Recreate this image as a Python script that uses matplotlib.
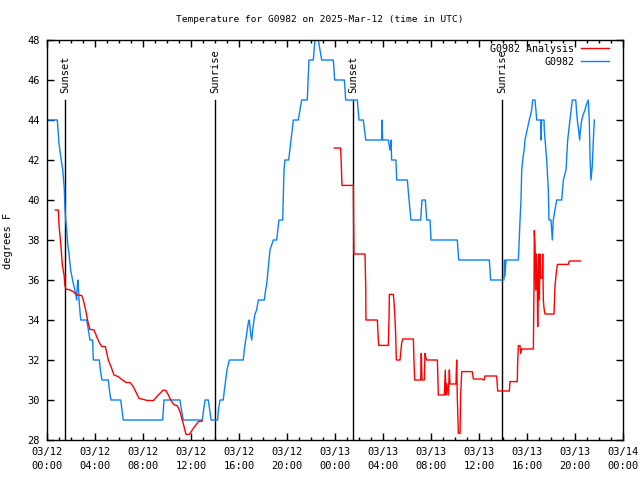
import numpy as np
import matplotlib
matplotlib.use('Agg')
import matplotlib.pyplot as plt
import matplotlib.dates as mdates

plt.rcParams['font.family'] = 'DejaVu Sans Mono'
plt.rcParams['font.size'] = 7.5

start = np.datetime64('2025-03-12T00:00:00')

# observed temps (hours since 03/12 00:00 UTC, deg F)
obs_hours = [0, 0.86, 0.92, 1.0, 1.14, 1.31, 1.44, 1.5, 1.56, 1.64, 1.72, 1.83, 1.97,
             2.19, 2.39, 2.47, 2.53, 2.58, 2.64, 2.69, 2.81, 3.31, 3.45, 3.58, 3.8, 3.86,
             4.36, 4.45, 4.58, 5.11, 5.2, 5.33, 6.14, 6.25, 6.36, 9.64, 9.75, 11.08, 11.2,
             11.36, 12.94, 13.05, 13.17, 13.44, 13.56, 13.67, 14.22, 14.28, 14.42, 14.69,
             14.78, 14.89, 15.0, 15.19, 16.36, 16.44, 16.56, 16.69, 16.78, 16.86, 16.97,
             17.06, 17.14, 17.25, 17.33, 17.47, 17.61, 18.11, 18.22, 18.31, 18.58, 18.86,
             19.14, 19.33, 19.64, 19.75, 19.83, 20.14, 20.53, 20.94, 21.22, 21.69, 21.83,
             22.19, 22.33, 22.61, 22.89, 23.86, 23.97, 24.78, 24.89, 25.86, 26.0, 26.36,
             26.56, 27.89, 27.93, 27.97, 28.44, 28.58, 28.67, 28.72, 29.08, 29.14, 30.03,
             30.17, 30.33, 31.14, 31.25, 31.53, 31.64, 31.92, 32.0, 34.19, 34.31, 36.86,
             36.97, 38.08, 38.12, 38.16, 38.25, 39.28, 39.42, 39.5, 39.56, 39.64, 39.78,
             39.83, 40.19, 40.39, 40.47, 40.67, 40.81, 41.14, 41.17, 41.22, 41.42, 41.44,
             41.64, 41.78, 41.83, 42.0, 42.11, 42.19, 42.47, 42.89, 43.03, 43.25, 43.39,
             43.58, 43.78, 44.06, 44.19, 44.3, 44.39, 44.45, 44.56, 44.7, 44.83, 44.97,
             45.11, 45.19, 45.25, 45.33, 45.44, 45.53, 45.61]
obs_temps = [44, 44, 43.5, 42.83, 42.17, 41.53, 40.58, 39.58, 39, 38.5, 37.83, 37.33, 36.5,
             35.83, 35.33, 35.0, 35.75, 36.0, 35.33, 34.83, 34.0, 34.0, 33.5, 33.0, 33.0, 32.0,
             32.0, 31.5, 31.0, 31.0, 30.5, 30.0, 30.0, 29.5, 29.0, 29.0, 30.0, 30.0, 29.5,
             29.0, 29.0, 29.5, 30.0, 30.0, 29.5, 29.0, 29.0, 29.5, 30.0, 30.0,
             30.5, 31.0, 31.5, 32.0, 32.0, 32.5, 33.0, 33.5, 33.9, 34.0, 33.3,
             33.0, 33.5, 34.0, 34.3, 34.5, 35.0, 35.0, 35.5, 35.8, 37.5, 38.0,
             38.0, 39.0, 39.0, 41.5, 42.0, 42.0, 44.0, 44.0, 45.0, 45.0, 47.0,
             47.0, 48.0, 48.0, 47.0, 47.0, 46.0, 46.0, 45.0, 45.0, 44.0, 44.0,
             43.0, 43.0, 44.0, 43.0, 43.0, 42.5, 43.0, 42.0, 42.0, 41.0, 41.0,
             40.0, 39.0, 39.0, 40.0, 40.0, 39.0, 39.0, 38.0, 38.0, 37.0, 37.0,
             36.0, 36.0, 37.0, 36.2, 37.0, 37.0, 39.0, 40.0, 41.5, 42.0, 42.6,
             43.0, 44.0, 44.5, 45.0, 45.0, 44.0, 44.0, 43.0, 44.0, 44.0, 43.5,
             42.0, 40.5, 39.0, 39.0, 38.0, 39.0, 40.0, 40.0, 41.0, 41.5, 43.0,
             44.0, 45.0, 45.0, 44.0, 43.5, 43.0, 43.5, 44.0, 44.3, 44.5, 44.8,
             45.0, 44.0, 42.2, 41.0, 41.7, 43.0, 44.0]

# analysis, two pieces with a gap between them
ana1_hours = [0.69, 0.94, 1.0, 1.14, 1.28, 1.42, 1.5, 1.58, 1.92, 2.19, 2.33, 2.47, 2.89,
              3.03, 3.22, 3.44, 3.58, 3.92, 4.14, 4.42, 4.58, 4.86, 5.11, 5.39, 5.58, 5.94,
              6.22, 6.58, 6.92, 7.19, 7.67, 8.03, 8.31, 8.86, 9.28, 9.69, 9.92, 10.11,
              10.39, 10.61, 10.86, 11.08, 11.42, 11.58, 11.86, 12.19, 12.61, 12.94]
ana1_temps = [39.5, 39.5, 38.75, 37.83, 36.75, 36.25, 35.7, 35.55, 35.5, 35.42, 35.33, 35.25,
              35.23, 35.0, 34.5, 33.83, 33.53, 33.5, 33.17, 32.8, 32.67, 32.67, 32.0, 31.58,
              31.25, 31.17, 31.03, 30.88, 30.87, 30.67, 30.08, 30.03, 29.98, 29.97, 30.25,
              30.5, 30.47, 30.25, 29.92, 29.75, 29.72, 29.42, 28.67, 28.28, 28.28, 28.58,
              28.92, 28.95]
ana2_hours = [23.94, 24.47, 24.53, 24.58, 25.53, 25.55, 25.58, 26.5, 26.56, 26.58, 27.53,
              27.58, 27.64, 28.44, 28.5, 28.53, 28.86, 28.92, 29.0, 29.06, 29.11, 29.42,
              29.47, 29.56, 29.64, 30.53, 30.58, 30.64, 31.14, 31.19, 31.25, 31.44, 31.5,
              31.56, 31.64, 32.53, 32.61, 33.11, 33.19, 33.25, 33.31, 33.44, 33.53, 33.58,
              34.08, 34.14, 34.19, 34.28, 34.42, 34.47, 34.56, 35.44, 35.53, 36.22, 36.42,
              36.5, 37.47, 37.56, 38.53, 38.58, 39.19, 39.22, 39.28, 39.42, 39.47, 39.56,
              40.53, 40.58, 40.61, 40.67, 40.72, 40.78, 40.86, 40.89, 40.97, 41.03, 41.08,
              41.14, 41.28, 41.31, 41.36, 41.42, 41.5, 42.25, 42.33, 42.42, 42.53, 43.44,
              43.53, 44.47]
ana2_temps = [42.6, 42.6, 41.67, 40.73, 40.73, 39.0, 37.3, 37.3, 35.67, 34.0, 34.0,
              33.33, 32.73, 32.73, 34.0, 35.28, 35.28, 34.9, 34.05, 33.2, 32.0, 32.0,
              32.33, 32.87, 33.05, 33.05, 32.0, 31.0, 31.0, 32.33, 31.0, 31.0, 32.33,
              32.13, 32.0, 32.0, 30.25, 30.25, 31.5, 30.25, 30.83, 30.25, 31.5, 30.8,
              30.8, 32.0, 30.17, 28.33, 28.33, 30.23, 31.42, 31.42, 31.05, 31.05, 31.0,
              31.2, 31.2, 30.45, 30.45, 30.92, 30.92, 31.83, 32.72, 32.72, 32.33, 32.55,
              32.55, 35.53, 38.47, 37.8, 35.5, 37.3, 35.5, 33.67, 37.3, 35.0, 37.3,
              36.1, 36.1, 37.3, 35.0, 34.58, 34.3, 34.3, 35.67, 36.25, 36.78, 36.78,
              36.95, 36.95]

sun_hours = [1.52, 14.0, 25.53, 37.95]
sun_labels = ['Sunset', 'Sunrise', 'Sunset', 'Sunrise']


def to_time(hours):
    return start + (np.array(hours) * 3600).round().astype('timedelta64[s]')


fig = plt.figure(figsize=(6.4, 4.8), dpi=100)
ax = fig.add_axes([47/640, 40/480, 576/640, 400/480])

for h, lab in zip(sun_hours, sun_labels):
    t = to_time([h])[0]
    ax.plot([t, t], [28, 45], color='black', lw=1)
    ax.text(t, 45.35, lab, rotation=90, ha='center', va='bottom')

blue, = ax.plot(to_time(obs_hours), obs_temps, color='#0a80ff', lw=1, label='G0982')
red, = ax.plot(to_time(ana1_hours), ana1_temps, color='#ff0000', lw=1, label='G0982 Analysis')
ax.plot(to_time(ana2_hours), ana2_temps, color='#ff0000', lw=1)

ax.set_xlim(start, start + np.timedelta64(48, 'h'))
ax.set_ylim(28, 48)
ax.set_yticks(np.arange(28, 49, 2))
ax.xaxis.set_major_locator(mdates.HourLocator(byhour=range(0, 24, 4)))
ax.xaxis.set_minor_locator(mdates.HourLocator())
ax.xaxis.set_major_formatter(mdates.DateFormatter('%m/%d\n%H:%M'))
ax.tick_params(which='both', direction='in', top=True, right=True, width=1)
ax.tick_params(which='major', length=5, pad=5)
ax.tick_params(which='minor', length=2.5)
for s in ax.spines.values():
    s.set_linewidth(1)

ax.legend([red, blue], ['G0982 Analysis', 'G0982'], loc='upper right', frameon=False,
          markerfirst=False, handlelength=2.8, handletextpad=0.65, labelspacing=0.3,
          borderpad=0, borderaxespad=0, bbox_to_anchor=(1 - 14/576, 1 - 4/400),
          fontsize=7.2)

fig.text(0.5, 1 - 20/480, 'Temperature for G0982 on 2025-Mar-12 (time in UTC)',
         ha='center', va='center', fontsize=6.8)
fig.text(8.5/640, 1 - 241/480, 'degrees F', rotation=90, ha='center', va='center')

fig.canvas.draw()
for lbl in ax.get_xticklabels():
    lbl.set_linespacing(1.5)

fig.savefig('out.png', dpi=100)
